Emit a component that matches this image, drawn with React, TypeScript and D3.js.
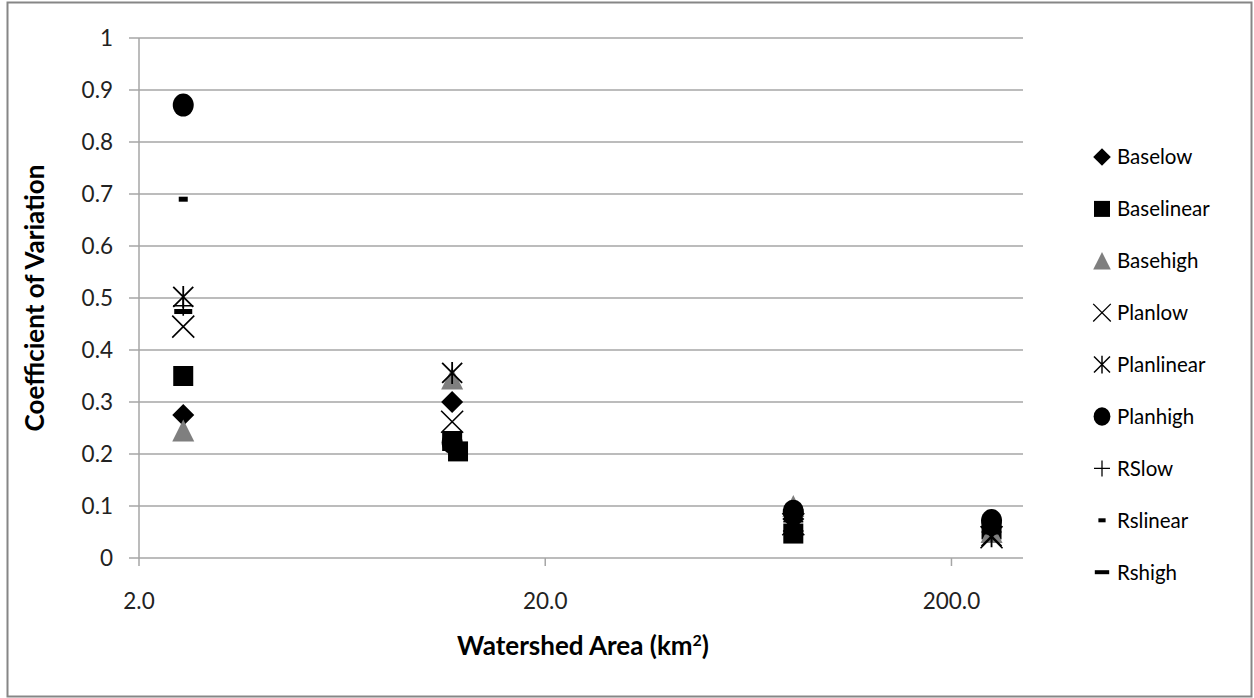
import React from "react";
import * as d3 from "d3";

// Watershed areas (km²) of the sampled catchments
const siteAreas = [2.57, 11.8, 12.2, 81.6, 251];

// Coefficient of variation per scenario, as [area, cv]
const baselow: [number, number][] = [[2.57, 0.275], [11.8, 0.3], [81.6, 0.075], [251, 0.06]];
const baselinear: [number, number][] = [[2.57, 0.35], [11.8, 0.225], [12.2, 0.205], [81.6, 0.047], [251, 0.055]];
const basehigh: [number, number][] = [[2.57, 0.245], [11.8, 0.345], [81.6, 0.1], [251, 0.05]];
const planlow: [number, number][] = [[2.57, 0.445], [11.8, 0.262], [81.6, 0.065], [251, 0.04]];
const planlinear: [number, number][] = [[2.57, 0.502], [11.8, 0.356], [81.6, 0.07], [251, 0.042]];
const planhigh: [number, number][] = [[2.57, 0.871], [11.8, 0.222], [81.6, 0.09], [251, 0.072]];
const rslow: [number, number][] = [[2.57, 0.485], [11.8, 0.22], [81.6, 0.07], [251, 0.05]];
const rslinear: [number, number][] = [[2.57, 0.69], [11.8, 0.22], [81.6, 0.06], [251, 0.05]];
const rshigh: [number, number][] = [[2.57, 0.474], [11.8, 0.22], [81.6, 0.06], [251, 0.05]];

const seriesNames = ["Baselow", "Baselinear", "Basehigh", "Planlow", "Planlinear", "Planhigh", "RSlow", "Rslinear", "Rshigh"];
const seriesData = [baselow, baselinear, basehigh, planlow, planlinear, planhigh, rslow, rslinear, rshigh];
const seriesShapes = ["diamond", "square", "triangle", "x", "star", "circle", "plus", "dash", "bar"];

const yTicks = [0, 0.1, 0.2, 0.3, 0.4, 0.5, 0.6, 0.7, 0.8, 0.9, 1];
const xTicks = [2, 20, 200];

const W = 1254;
const H = 698;
const FONT = "Lato, 'Open Sans', sans-serif";

const x = d3.scaleLog().domain([2, 300]).range([139, 1023]);
const y = d3.scaleLinear().domain([0, 1]).range([558, 38]);

function Marker({ shape, cx, cy, s = 1 }: { shape: string; cx: number; cy: number; s?: number }) {
  const t = `translate(${cx},${cy}) scale(${s})`;
  switch (shape) {
    case "diamond":
      return <path transform={t} d="M0,-11L11,0L0,11L-11,0Z" fill="#000" />;
    case "square":
      return <rect transform={t} x={-10} y={-10} width={20} height={20} fill="#000" />;
    case "triangle":
      return <path transform={t} d="M0,-11L11,11L-11,11Z" fill="#7f7f7f" />;
    case "circle":
      return <ellipse transform={t} rx={10.5} ry={11.5} fill="#000" />;
    case "x":
      return <path transform={t} d="M-11,-11L11,11M11,-11L-11,11" stroke="#000" strokeWidth={1.6} fill="none" />;
    case "star":
      return <path transform={t} d="M-10,-10L10,10M10,-10L-10,10M0,-11L0,11" stroke="#000" strokeWidth={1.8} fill="none" />;
    case "plus":
      return <path transform={t} d="M-10,0L10,0M0,-10L0,10" stroke="#000" strokeWidth={1.6} fill="none" />;
    case "dash":
      return <rect transform={t} x={-4.5} y={-2.5} width={9} height={5} fill="#000" />;
    case "bar":
      return <rect transform={t} x={-9} y={-2.5} width={18} height={5} fill="#000" />;
    default:
      return null;
  }
}

export default function App() {
  const legendTop = 157;
  const legendStep = 51.9;
  return (
    <svg width={W} height={H} style={{ position: "absolute", left: 0, top: 0 }} fontFamily={FONT}>
      <rect x={0} y={0} width={W} height={H} fill="#fff" />
      <rect x={7.5} y={2.5} width={1244} height={694} fill="none" stroke="#868686" strokeWidth={2} />

      {/* horizontal gridlines */}
      {yTicks.map((v) => (
        <line key={"g" + v} x1={x.range()[0]} x2={x.range()[1]} y1={y(v)} y2={y(v)} stroke="#a6a6a6" strokeWidth={1.5} />
      ))}
      {/* y axis */}
      <line x1={139} x2={139} y1={y(1)} y2={y(0)} stroke="#a6a6a6" strokeWidth={1.5} />
      {yTicks.map((v) => (
        <g key={"yt" + v}>
          <line x1={129} x2={139} y1={y(v)} y2={y(v)} stroke="#a6a6a6" strokeWidth={1.5} />
          <text x={113} y={y(v)} dy="0.36em" textAnchor="end" fontSize={22.5} fill="#222">
            {d3.format("")(v)}
          </text>
        </g>
      ))}
      {/* x axis ticks */}
      {xTicks.map((v) => (
        <g key={"xt" + v}>
          <line x1={x(v)} x2={x(v)} y1={558} y2={566} stroke="#a6a6a6" strokeWidth={1.5} />
          <text x={x(v)} y={609} textAnchor="middle" fontSize={22.5} fill="#222">
            {d3.format(".1f")(v)}
          </text>
        </g>
      ))}

      {/* axis titles */}
      <text
        transform={`translate(44,${(y(0) + y(1)) / 2}) rotate(-90)`}
        textAnchor="middle"
        fontSize={26}
        fontWeight="bold"
        fill="#000"
      >
        Coefficient of Variation
      </text>
      <text x={583} y={655} textAnchor="middle" fontSize={26} fontWeight="bold" fill="#000">
        Watershed Area (km<tspan dy={-9} fontSize={16}>2</tspan>
        <tspan dy={9}>)</tspan>
      </text>

      {/* data markers */}
      {seriesData.map((pts, i) => (
        <g key={seriesNames[i]}>
          {pts.map(([a, v], j) => (
            <Marker key={j} shape={seriesShapes[i]} cx={x(a)} cy={y(v)} />
          ))}
        </g>
      ))}

      {/* legend */}
      {seriesNames.map((name, i) => {
        const cy = legendTop + i * legendStep;
        return (
          <g key={"lg" + name}>
            <Marker shape={seriesShapes[i]} cx={1102} cy={cy} s={0.8} />
            <text x={1117} y={cy} dy="0.36em" fontSize={20.5} fill="#000">
              {name}
            </text>
          </g>
        );
      })}
    </svg>
  );
}
